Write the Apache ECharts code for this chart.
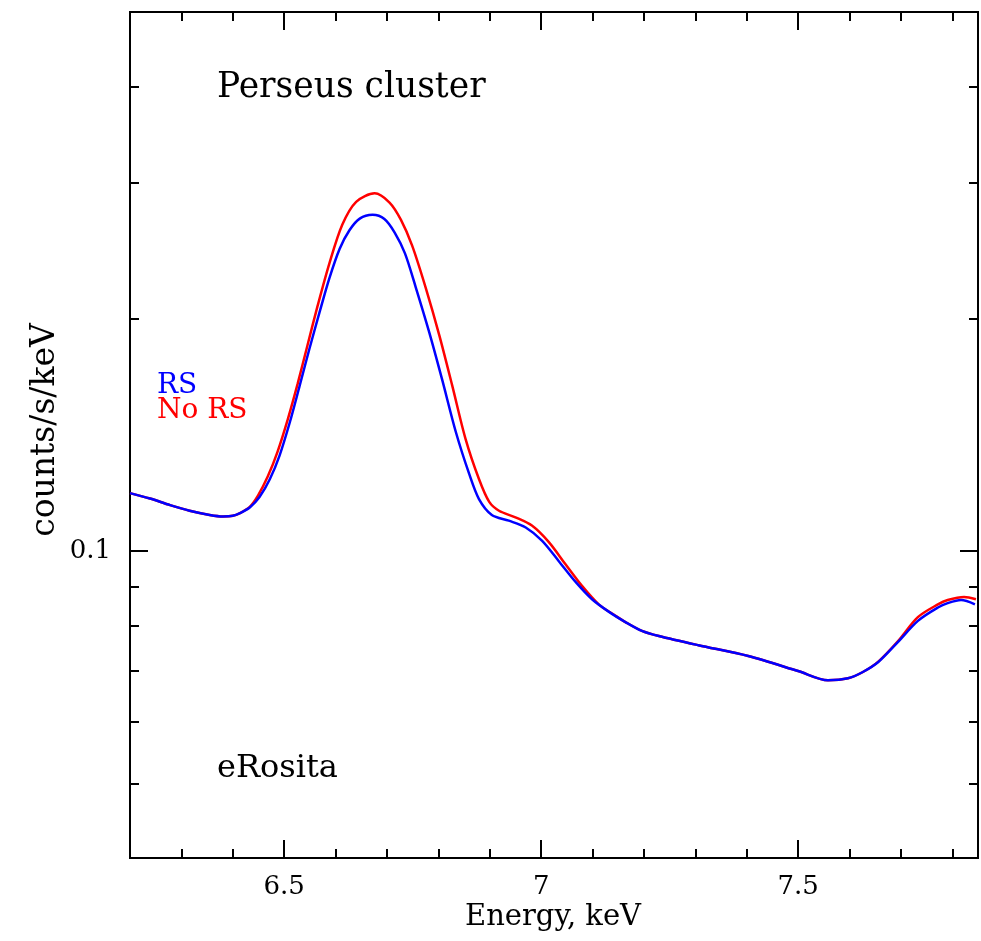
<!DOCTYPE html>
<html>
<head>
<meta charset="utf-8">
<script src="https://cdn.jsdelivr.net/npm/echarts@6/dist/echarts.min.js"></script>
<style>html,body{margin:0;padding:0;background:#fff;}#c{width:981px;height:941px;}</style>
</head>
<body>
<div id="c"></div>
<script>
// ---- data ----
const energyRS = [6.200,6.239,6.278,6.316,6.355,6.381,6.400,6.414,6.433,6.452,6.472,6.491,6.511,6.530,6.549,6.569,6.588,6.608,6.627,6.647,6.672,6.695,6.715,6.735,6.756,6.782,6.807,6.834,6.860,6.879,6.904,6.937,6.970,7.002,7.034,7.067,7.099,7.132,7.164,7.196,7.229,7.306,7.403,7.500,7.558,7.597,7.626,7.656,7.694,7.733,7.772,7.791,7.817,7.844];
const countsRS = [0.1189,0.1170,0.1147,0.1128,0.1114,0.1109,0.1111,0.1120,0.1139,0.1175,0.1239,0.1330,0.1469,0.1637,0.1828,0.2042,0.2259,0.2466,0.2606,0.2698,0.2729,0.2695,0.2588,0.2432,0.2198,0.1924,0.1672,0.1427,0.1259,0.1168,0.1114,0.1095,0.1073,0.1031,0.0971,0.0912,0.0866,0.0834,0.0809,0.0788,0.0776,0.0755,0.0731,0.0699,0.0680,0.0684,0.0697,0.0718,0.0762,0.0812,0.0845,0.0856,0.0864,0.0853];
const energyNoRS = [6.200,6.239,6.278,6.316,6.355,6.381,6.400,6.414,6.433,6.449,6.468,6.487,6.507,6.526,6.545,6.565,6.588,6.613,6.640,6.676,6.705,6.727,6.749,6.776,6.802,6.827,6.853,6.879,6.899,6.918,6.950,6.982,7.015,7.047,7.079,7.112,7.144,7.164,7.196,7.229,7.306,7.403,7.500,7.558,7.597,7.626,7.656,7.694,7.733,7.772,7.791,7.823,7.846];
const countsNoRS = [0.1189,0.1170,0.1147,0.1128,0.1114,0.1109,0.1111,0.1120,0.1141,0.1180,0.1249,0.1345,0.1482,0.1646,0.1845,0.2079,0.2361,0.2649,0.2837,0.2910,0.2831,0.2690,0.2489,0.2188,0.1903,0.1639,0.1397,0.1240,0.1158,0.1128,0.1106,0.1079,0.1027,0.0962,0.0902,0.0853,0.0825,0.0809,0.0788,0.0776,0.0755,0.0731,0.0699,0.0680,0.0684,0.0697,0.0719,0.0764,0.0821,0.0853,0.0864,0.0872,0.0866];
const xMajorTicks = [6.5, 7, 7.5];
const xMinorTicks = [6.3,6.4,6.6,6.7,6.8,6.9,7.1,7.2,7.3,7.4,7.6,7.7,7.8];
const yMajorTicks = [0.1];
const yMinorTicks = [0.05,0.06,0.07,0.08,0.09,0.2,0.3,0.4];
const xRange = [6.2, 7.85];
const yRange = [0.04, 0.5];

const FONT = '"DejaVu Serif", "Liberation Serif", serif';
const lg = v => Math.log10(v);

function xAx(pos, ticks, len, labels) {
  return {
    type: 'value', position: pos, min: xRange[0], max: xRange[1],
    axisLine: { show: true, onZero: false, lineStyle: { color: '#000', width: 2 } },
    axisTick: { show: true, inside: true, length: len, customValues: ticks, lineStyle: { color: '#000', width: 2 } },
    axisLabel: labels ? { show: true, customValues: labels, margin: 16, color: '#000', fontSize: 26, fontFamily: FONT } : { show: false },
    splitLine: { show: false }
  };
}
function yAx(pos, ticks, len, labels) {
  return {
    type: 'value', position: pos, min: lg(yRange[0]), max: lg(yRange[1]),
    axisLine: { show: true, onZero: false, lineStyle: { color: '#000', width: 2 } },
    axisTick: { show: true, inside: true, length: len, customValues: ticks.map(lg), lineStyle: { color: '#000', width: 2 } },
    axisLabel: labels ? { show: true, customValues: labels.map(lg), margin: 19, color: '#000', fontSize: 26, fontFamily: FONT,
      formatter: v => String(+Math.pow(10, v).toFixed(3)) } : { show: false },
    splitLine: { show: false }
  };
}

const chart = echarts.init(document.getElementById('c'), null, { renderer: 'canvas' });
chart.setOption({
  backgroundColor: '#fff',
  animation: false,
  grid: { left: 130, right: 3, top: 12, bottom: 83, containLabel: false },
  xAxis: [
    xAx('bottom', xMajorTicks, 18, xMajorTicks),
    xAx('bottom', xMinorTicks, 9, null),
    xAx('top', xMajorTicks, 18, null),
    xAx('top', xMinorTicks, 9, null)
  ],
  yAxis: [
    { type: 'log', position: 'left', min: yRange[0], max: yRange[1],
      axisLine: { show: true, onZero: false, lineStyle: { color: '#000', width: 2 } },
      axisTick: { show: false }, axisLabel: { show: false }, splitLine: { show: false }, minorTick: { show: false } },
    yAx('left', yMajorTicks, 18, yMajorTicks),
    yAx('left', yMinorTicks, 9, null),
    yAx('right', yMajorTicks, 18, null),
    yAx('right', yMinorTicks, 9, null)
  ],
  series: [
    { name: 'No RS', type: 'line', xAxisIndex: 0, yAxisIndex: 0, showSymbol: false, smooth: 0.3,
      lineStyle: { color: '#ff0000', width: 2.5 }, data: energyNoRS.map((e, i) => [e, countsNoRS[i]]) },
    { name: 'RS', type: 'line', xAxisIndex: 0, yAxisIndex: 0, showSymbol: false, smooth: 0.3,
      lineStyle: { color: '#0000ff', width: 2.5 }, data: energyRS.map((e, i) => [e, countsRS[i]]) }
  ],
  graphic: [
    { type: 'text', left: 217, top: 71, style: { text: 'Perseus cluster', fill: '#000', font: '34.5px ' + FONT } },
    { type: 'text', left: 217, top: 753, style: { text: 'eRosita', fill: '#000', font: '32px ' + FONT } },
    { type: 'text', left: 157, top: 372, style: { text: 'RS', fill: '#0000ff', font: '28px ' + FONT } },
    { type: 'text', left: 157, top: 397, style: { text: 'No RS', fill: '#ff0000', font: '28px ' + FONT } },
    { type: 'text', x: 553, y: 917, style: { text: 'Energy, keV', fill: '#000', font: '29px ' + FONT, align: 'center', verticalAlign: 'middle' } },
    { type: 'text', x: 45, y: 430, rotation: Math.PI / 2, style: { text: 'counts/s/keV', fill: '#000', font: '33px ' + FONT, align: 'center', verticalAlign: 'middle' } }
  ]
});
</script>
</body>
</html>
